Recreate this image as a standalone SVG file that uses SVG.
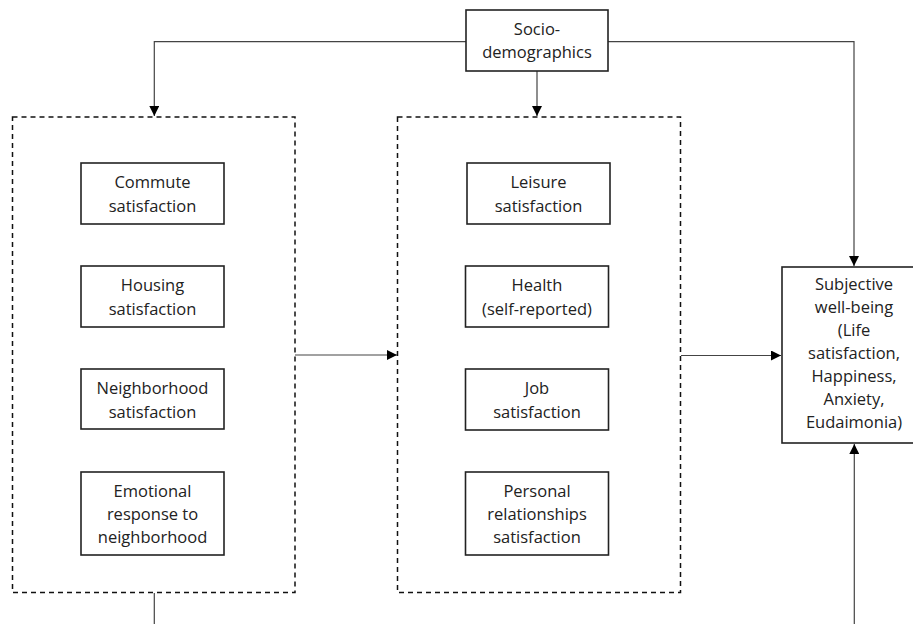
<svg xmlns="http://www.w3.org/2000/svg" width="913" height="624" viewBox="0 0 913 624">
<style>
.box{fill:#fff;stroke:#222;stroke-width:1.6}
.grp{fill:none;stroke:#111;stroke-width:1.5;stroke-dasharray:5 4}
.con{fill:none;stroke:#444;stroke-width:1.2}
text{font-family:"Open Sans","Liberation Sans",sans-serif;font-size:16.5px;fill:#222;text-anchor:middle}
</style>
<defs>
<marker id="arr" viewBox="0 0 10 10" refX="10" refY="5" markerWidth="10" markerHeight="10" markerUnits="userSpaceOnUse" orient="auto">
<path d="M0,0 L10,5 L0,10 Z" fill="#000"/>
</marker>
</defs>
<rect width="913" height="624" fill="#fff"/>
<g id="group-left"><rect class="grp" x="12.5" y="117" width="282.5" height="475.5"/></g>
<g id="group-middle"><rect class="grp" x="397.5" y="117" width="283" height="475.5"/></g>
<g id="connectors">
<path class="con" d="M466,41.7 H154.3 V116" marker-end="url(#arr)"/>
<path class="con" d="M608,41.7 H854 V266" marker-end="url(#arr)"/>
<path class="con" d="M537,71 V116" marker-end="url(#arr)"/>
<path class="con" d="M295,355 H397" marker-end="url(#arr)"/>
<path class="con" d="M681,355.5 H781" marker-end="url(#arr)"/>
<path class="con" d="M154.3,593 V624"/>
<path class="con" d="M854.3,624 V444" marker-end="url(#arr)"/>
</g>
<g id="socio"><rect class="box" x="466" y="10" width="142" height="61"/><text x="537" y="35">Socio-</text><text x="537" y="58">demographics</text></g>
<g id="commute"><rect class="box" x="81" y="163" width="143" height="61"/><text x="152.5" y="188">Commute</text><text x="152.5" y="212">satisfaction</text></g>
<g id="housing"><rect class="box" x="81" y="266" width="143" height="61"/><text x="152.5" y="291">Housing</text><text x="152.5" y="315">satisfaction</text></g>
<g id="neighborhood"><rect class="box" x="81" y="369" width="143" height="60"/><text x="152.5" y="394">Neighborhood</text><text x="152.5" y="418">satisfaction</text></g>
<g id="emotional"><rect class="box" x="81" y="472" width="143" height="83"/><text x="152.5" y="497">Emotional</text><text x="152.5" y="520">response to</text><text x="152.5" y="543">neighborhood</text></g>
<g id="leisure"><rect class="box" x="467" y="163" width="143" height="61"/><text x="538.5" y="188">Leisure</text><text x="538.5" y="212">satisfaction</text></g>
<g id="health"><rect class="box" x="465.5" y="266" width="143" height="61"/><text x="537" y="291">Health</text><text x="537" y="315">(self-reported)</text></g>
<g id="job"><rect class="box" x="465.5" y="369" width="143" height="61"/><text x="537" y="394">Job</text><text x="537" y="418">satisfaction</text></g>
<g id="personal"><rect class="box" x="465.5" y="472" width="143" height="83"/><text x="537" y="497">Personal</text><text x="537" y="520">relationships</text><text x="537" y="543">satisfaction</text></g>
<g id="swb"><rect class="box" x="782" y="267" width="146" height="176"/>
<text x="854" y="290">Subjective</text><text x="854" y="313">well-being</text><text x="854" y="336">(Life</text><text x="854" y="359">satisfaction,</text><text x="854" y="382">Happiness,</text><text x="854" y="405">Anxiety,</text><text x="854" y="428">Eudaimonia)</text></g>
</svg>
